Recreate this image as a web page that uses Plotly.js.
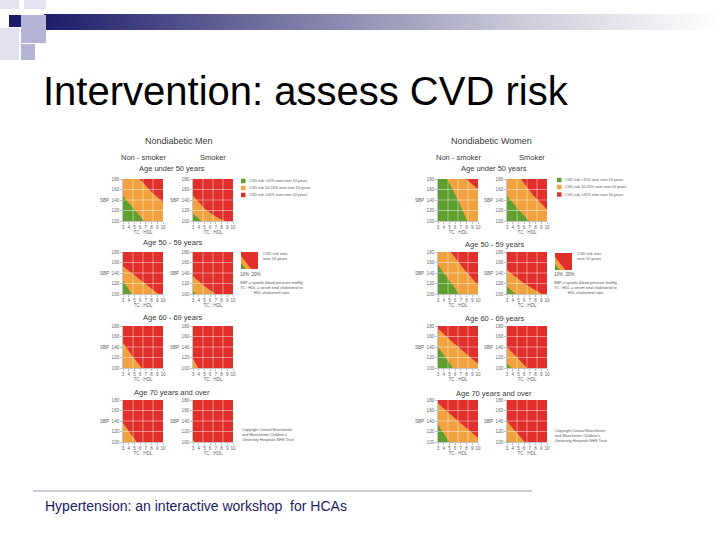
<!DOCTYPE html>
<html>
<head>
<meta charset="utf-8">
<script src="https://cdn.plot.ly/plotly-3.0.1.min.js"></script>
<style>
  html, body { margin: 0; padding: 0; background: #ffffff; }
  #chart { width: 720px; height: 540px; }
</style>
</head>
<body>
<div id="chart"></div>
<script>
// ---- axis ticks -------------------------------------------------------
const TC_TICKS = [3, 4, 5, 6, 7, 8, 9, 10];
const SBP_TICKS = [100, 120, 140, 160, 180];
const SBP_TEXT = ['100', '120', 'SBP  140', '160', '180'];

// ---- risk contours: [TC:HDL ratio, systolic BP] points -----------------
// "_10" = boundary between <10% and 10-20% risk, "_20" = boundary 10-20% / >20%
// Nondiabetic men
const men_u50_ns_10 = [[3, 147], [5, 122], [6.7, 100]];
const men_u50_ns_20 = [[3, 180], [5.9, 180], [8, 155], [10, 136]];
const men_u50_sm_10 = [[3, 114], [4.5, 100]];
const men_u50_sm_20 = [[3, 148], [5, 124], [7, 108], [8.6, 100]];
const men_50s_ns_10 = [[3, 125], [4.5, 100]];
const men_50s_ns_20 = [[3, 153], [6, 127], [9.2, 100]];
const men_50s_sm_10 = [[3, 105], [3.5, 100]];
const men_50s_sm_20 = [[3, 134], [5, 115], [6.9, 100]];
const men_60s_ns_10 = [];
const men_60s_ns_20 = [[3, 148], [4.7, 122], [6.3, 100]];
const men_60s_sm_10 = [];
const men_60s_sm_20 = [[3, 118], [3.9, 100]];
const men_70p_ns_10 = [];
const men_70p_ns_20 = [[3, 136], [5.4, 100]];
const men_70p_sm_10 = [];
const men_70p_sm_20 = [[3, 104], [3.4, 100]];
// Nondiabetic women
const wom_u50_ns_10 = [[3, 180], [4.6, 180], [6.5, 140], [8.1, 100]];
const wom_u50_ns_20 = [[3, 180], [7.85, 180], [10, 161]];
const wom_u50_sm_10 = [[3, 148], [5, 122], [6.9, 100]];
const wom_u50_sm_20 = [[3, 180], [5.45, 180], [7.5, 150], [10, 122]];
const wom_50s_ns_10 = [[3, 155], [5, 125], [6.7, 100]];
const wom_50s_ns_20 = [[3, 180], [5.25, 180], [7.5, 148], [10, 117]];
const wom_50s_sm_10 = [[3, 114], [4.5, 100]];
const wom_50s_sm_20 = [[3, 146], [6, 120], [9.1, 100]];
const wom_60s_ns_10 = [[3, 140], [5.6, 100]];
const wom_60s_ns_20 = [[3, 175], [6, 145], [10, 108]];
const wom_60s_sm_10 = [[3, 108], [3.8, 100]];
const wom_60s_sm_20 = [[3, 140], [6.5, 100]];
const wom_70p_ns_10 = [[3, 133], [5, 100]];
const wom_70p_ns_20 = [[3, 174], [6.5, 140], [10, 108]];
const wom_70p_sm_10 = [[3, 104], [3.3, 100]];
const wom_70p_sm_20 = [[3, 139], [6.1, 100]];
// small key chart
const key_10 = [[3, 128], [4.9, 100]];
const key_20 = [[3, 162], [5.5, 125], [7.2, 100]];

// ---- text ---------------------------------------------------------------
const AGE_MEN = ['Age under 50 years', 'Age 50 - 59 years', 'Age 60 - 69 years', 'Age 70 years and over'];
const AGE_WOMEN = ['Age under 50 years', 'Age 50 - 59 years', 'Age 60 - 69 years', 'Age 70 years and over'];
const LEGEND_TEXT = ['CVD risk <10% over next 10 years', 'CVD risk 10-20% over next 10 years', 'CVD risk >20% over next 10 years'];

// ---- styling --------------------------------------------------------------
const GREEN = '#5f9f30', ORANGE = '#f1a23e', RED = '#e1302b';
const FONT = 'Liberation Sans, Arial, sans-serif';
const W = 720, H = 540;
const px = v => v / W;
const py = v => 1 - v / H;
const PW = 40, PH = 42;
const COL_X = [123, 193, 438, 507];
const ROW_Y = [179, 252, 326, 400];

const panels = [
  [0, 0, men_u50_ns_10, men_u50_ns_20], [1, 0, men_u50_sm_10, men_u50_sm_20],
  [0, 1, men_50s_ns_10, men_50s_ns_20], [1, 1, men_50s_sm_10, men_50s_sm_20],
  [0, 2, men_60s_ns_10, men_60s_ns_20], [1, 2, men_60s_sm_10, men_60s_sm_20],
  [0, 3, men_70p_ns_10, men_70p_ns_20], [1, 3, men_70p_sm_10, men_70p_sm_20],
  [2, 0, wom_u50_ns_10, wom_u50_ns_20], [3, 0, wom_u50_sm_10, wom_u50_sm_20],
  [2, 1, wom_50s_ns_10, wom_50s_ns_20], [3, 1, wom_50s_sm_10, wom_50s_sm_20],
  [2, 2, wom_60s_ns_10, wom_60s_ns_20], [3, 2, wom_60s_sm_10, wom_60s_sm_20],
  [2, 3, wom_70p_ns_10, wom_70p_ns_20], [3, 3, wom_70p_sm_10, wom_70p_sm_20]
];

const traces = [];
const layout = {
  width: W, height: H,
  margin: {l: 0, r: 0, t: 0, b: 0},
  paper_bgcolor: '#ffffff',
  plot_bgcolor: RED,
  showlegend: false,
  font: {family: FONT, color: '#444'},
  shapes: [], annotations: [], images: []
};

function bandTrace(pts, color, id) {
  return {
    type: 'scatter', mode: 'lines',
    x: pts.map(p => p[0]), y: pts.map(p => p[1]),
    fill: 'tozeroy', fillcolor: color,
    line: {width: 0, color: color},
    xaxis: 'x' + id, yaxis: 'y' + id, hoverinfo: 'skip'
  };
}

function addAxes(n, left, top, w, h, withTicks) {
  const id = n === 1 ? '' : String(n);
  const xa = {
    domain: [px(left), px(left + w)], range: [3, 10], anchor: 'y' + id,
    showgrid: false, zeroline: false, fixedrange: true
  };
  const ya = {
    domain: [py(top + h), py(top)], range: [100, 180], anchor: 'x' + id,
    showgrid: false, zeroline: false, fixedrange: true
  };
  if (withTicks) {
    Object.assign(xa, {
      tickmode: 'array', tickvals: TC_TICKS, tickangle: 0, ticks: 'outside', ticklen: 2, tickwidth: 0.6,
      tickcolor: '#999', showline: true, linecolor: '#b5b5b5', linewidth: 0.8,
      tickfont: {size: 4.6, color: '#666', family: FONT},
      title: {text: 'TC : HDL', font: {size: 4.6, color: '#666', family: FONT}, standoff: 0}
    });
    Object.assign(ya, {
      tickmode: 'array', tickvals: SBP_TICKS, ticktext: SBP_TEXT, ticks: 'outside', ticklen: 2,
      tickwidth: 0.6, tickcolor: '#999', showline: true, linecolor: '#b5b5b5', linewidth: 0.8,
      tickfont: {size: 4.6, color: '#666', family: FONT}
    });
  } else {
    Object.assign(xa, {showticklabels: false, ticks: ''});
    Object.assign(ya, {showticklabels: false, ticks: ''});
  }
  layout['xaxis' + id] = xa;
  layout['yaxis' + id] = ya;
  return id;
}

// risk charts
panels.forEach((p, i) => {
  const id = addAxes(i + 1, COL_X[p[0]], ROW_Y[p[1]], PW, PH, true);
  if (p[3].length) traces.push(bandTrace(p[3], ORANGE, id));
  if (p[2].length) traces.push(bandTrace(p[2], GREEN, id));
  // light grid dividing each chart into quarters
  [0.25, 0.5, 0.75].forEach(f => {
    layout.shapes.push({type: 'line', xref: 'x' + id, yref: 'y' + id + ' domain',
      x0: 3 + 7 * f, x1: 3 + 7 * f, y0: 0, y1: 1, layer: 'above',
      line: {color: 'rgba(255,255,255,0.55)', width: 0.8}});
  });
  [120, 140, 160].forEach(v => {
    layout.shapes.push({type: 'line', xref: 'x' + id + ' domain', yref: 'y' + id,
      x0: 0, x1: 1, y0: v, y1: v, layer: 'above',
      line: {color: 'rgba(255,255,255,0.55)', width: 0.8}});
  });
});

// key charts
[[241, 252], [555, 253]].forEach((pos, k) => {
  const id = addAxes(17 + k, pos[0], pos[1], 17, 17, false);
  traces.push(bandTrace(key_20, ORANGE, id));
  traces.push(bandTrace(key_10, GREEN, id));
});

function ann(text, x, y, size, opts) {
  layout.annotations.push(Object.assign({
    text: text, x: px(x), y: py(y), xref: 'paper', yref: 'paper',
    showarrow: false, xanchor: 'center', yanchor: 'middle', borderpad: 0,
    font: {size: size, color: '#3a3a3a', family: FONT}
  }, opts || {}));
}

// slide title and footer
ann('Intervention: assess CVD risk', 42, 91, 40, {xanchor: 'left', font: {size: 40, color: '#000000', family: FONT}});
ann('Hypertension: an interactive workshop  for HCAs', 44, 506, 14, {xanchor: 'left', font: {size: 14, color: '#1b1b66', family: FONT}});
layout.shapes.push({type: 'line', xref: 'paper', yref: 'paper', x0: px(33), x1: px(532), y0: py(491), y1: py(491),
  line: {color: '#9a9ab8', width: 1}});

// chart headings
ann('Nondiabetic Men', 179, 141, 9);
ann('Non - smoker', 144, 157, 7.5);
ann('Smoker', 213, 157, 7.5);
ann('Nondiabetic Women', 491, 141, 9);
ann('Non - smoker', 459, 158, 7.5);
ann('Smoker', 532, 158, 7.5);
const ageY = [169, 243, 317, 392];
AGE_MEN.forEach((t, r) => ann(t, 172, ageY[r], 7.5));
AGE_WOMEN.forEach((t, r) => ann(t, 494, ageY[r] + (r ? 1 : 0), 7.5));

// colour keys
const keyColors = [GREEN, ORANGE, RED];
[[241, [181, 188, 195]], [557, [180, 187, 194.5]]].forEach(k => {
  k[1].forEach((y, j) => {
    layout.shapes.push({type: 'rect', xref: 'paper', yref: 'paper',
      x0: px(k[0]), x1: px(k[0] + 4.5), y0: py(y + 2.2), y1: py(y - 2.2),
      fillcolor: keyColors[j], line: {width: 0}});
    ann(LEGEND_TEXT[j], k[0] + 6.5, y, 3.8, {xanchor: 'left', font: {size: 3.8, color: '#555', family: FONT}});
  });
});

// key chart notes
[[241, 262, 271], [555, 576, 585]].forEach(k => {
  ann('CVD risk over<br>next 10 years', k[1], 256, 4, {xanchor: 'left', align: 'left', font: {size: 4, color: '#555', family: FONT}});
  ann('10%&nbsp;&nbsp;20%', k[0] + 9, 274, 4.5, {font: {size: 4.5, color: '#555', family: FONT}});
  ann('SBP = systolic blood pressure mmHg<br>TC : HDL = serum total cholesterol to<br>HDL cholesterol ratio',
    k[2], 288, 3.8, {font: {size: 3.8, color: '#555', family: FONT}});
});

// copyright notes
[[241, 434.5], [554, 436]].forEach(k => {
  ann('Copyright Central Manchester<br>and Manchester Children\'s<br>University Hospitals NHS Trust',
    k[0], k[1], 3.8, {xanchor: 'left', align: 'left', font: {size: 3.8, color: '#555', family: FONT}});
});

// header bar: navy to white gradient
const barSvg = "<svg xmlns='http://www.w3.org/2000/svg' width='676' height='16' preserveAspectRatio='none'>" +
  "<defs><linearGradient id='g' x1='0' x2='1' y1='0' y2='0'>" +
  "<stop offset='0' stop-color='#1c1c6a'/><stop offset='0.35' stop-color='#7676a2'/>" +
  "<stop offset='0.7' stop-color='#cacada'/><stop offset='1' stop-color='#ffffff'/></linearGradient></defs>" +
  "<rect width='676' height='16' fill='url(#g)'/></svg>";
layout.images.push({
  source: 'data:image/svg+xml;charset=utf-8,' + encodeURIComponent(barSvg),
  xref: 'paper', yref: 'paper', x: px(44), y: py(14), sizex: px(676), sizey: 16 / H,
  sizing: 'stretch', xanchor: 'left', yanchor: 'top', layer: 'above'
});

// corner squares
[
  [0, 0, 19, 9, '#e4e4f0'],
  [24, 0, 46, 9, '#e4e4f0'],
  [0, 28, 19, 60, '#e2e2ee'],
  [21, 15, 46, 43, '#b4b4d6'],
  [21, 44, 35, 60, '#b4b4d6'],
  [9, 15, 21, 27, '#1c1c6a']
].forEach(s => {
  layout.shapes.push({type: 'rect', xref: 'paper', yref: 'paper',
    x0: px(s[0]), x1: px(s[2]), y0: py(s[3]), y1: py(s[1]),
    fillcolor: s[4], line: {width: 0}, layer: 'above'});
});

Plotly.newPlot('chart', traces, layout, {staticPlot: true, displayModeBar: false});
</script>
</body>
</html>
